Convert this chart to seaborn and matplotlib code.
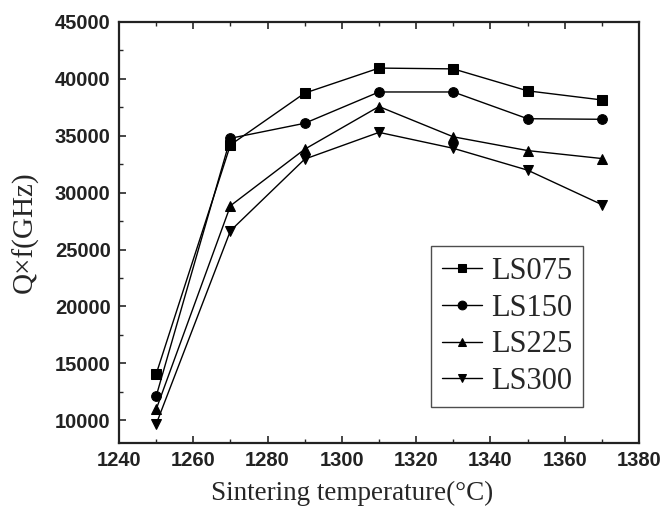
import pandas as pd
import numpy as np
import matplotlib
matplotlib.use("Agg")
import matplotlib.pyplot as plt
from matplotlib.ticker import MultipleLocator
import seaborn as sns

# Data
temps = [1250, 1270, 1290, 1310, 1330, 1350, 1370]
samples = ['LS075', 'LS150', 'LS225', 'LS300']
ls075 = [14050, 34200, 38750, 40950, 40880, 38950, 38150]
ls150 = [12100, 34780, 36100, 38850, 38850, 36500, 36450]
ls225 = [10950, 28850, 33820, 37570, 34910, 33700, 33000]
ls300 = [9650, 26650, 32950, 35300, 33900, 31980, 28950]
marker_list = ['s', 'o', '^', 'v']

# long-form table for seaborn
df = pd.DataFrame({
    'temp': temps * 4,
    'qf': ls075 + ls150 + ls225 + ls300,
    'sample': np.repeat(samples, len(temps)),
})

sns.set_style('ticks')
serif = ['Liberation Serif', 'DejaVu Serif']
sans_bold = ['Liberation Sans', 'DejaVu Sans']

fig, ax = plt.subplots(figsize=(6.64, 5.16), dpi=100)
fig.subplots_adjust(left=119/664, right=639/664, top=1-22/516, bottom=1-443/516)

sns.lineplot(data=df, x='temp', y='qf', style='sample', markers=marker_list,
             dashes=False, color='black', markersize=7, linewidth=1,
             markeredgecolor='black', ax=ax)

ax.set_xlim(1240, 1380)
ax.set_ylim(8000, 45000)
ax.xaxis.set_major_locator(MultipleLocator(20))
ax.xaxis.set_minor_locator(MultipleLocator(10))
ax.yaxis.set_major_locator(MultipleLocator(5000))
ax.yaxis.set_minor_locator(MultipleLocator(2500))
ax.tick_params(which='major', direction='in', length=5, width=1.2, top=True)
ax.tick_params(which='minor', direction='in', length=3, width=1.0, top=True)
ax.tick_params(axis='both', which='major', pad=6)
for lab in ax.get_xticklabels() + ax.get_yticklabels():
    lab.set_family(sans_bold)
    lab.set_fontweight('bold')
    lab.set_fontsize(14.5)
    lab.set_color('#222222')
for sp in ax.spines.values():
    sp.set_linewidth(1.6)
    sp.set_color('#222222')

ax.set_xlabel('Sintering temperature(°C)', family=serif, fontsize=19.5)
ax.xaxis.set_label_coords((352 - 119) / 520, -0.09, transform=ax.transAxes)
ax.xaxis.label.set_va('top')
ax.set_ylabel('Q×f(GHz)', family=serif, fontsize=21)
ax.yaxis.set_label_coords(-0.155, 0.5)

leg = ax.legend(loc='lower right', bbox_to_anchor=(0.892, 0.086), frameon=True,
                fancybox=False, edgecolor='#222222', borderaxespad=0,
                prop={'family': serif, 'size': 22}, handlelength=1.3,
                handletextpad=0.3, labelspacing=0.25, borderpad=0.35,
                markerscale=0.9)
leg.get_frame().set_linewidth(1.0)

fig.savefig('out.png', dpi=100)
